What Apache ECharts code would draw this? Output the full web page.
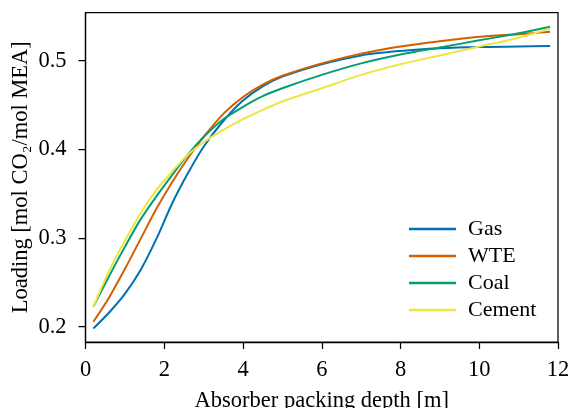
<!DOCTYPE html>
<html>
<head>
<meta charset="utf-8">
<script src="https://cdn.jsdelivr.net/npm/echarts@6/dist/echarts.min.js"></script>
<style>html,body{margin:0;padding:0;background:#fff;}#c{width:569px;height:408px;}</style>
</head>
<body>
<div id="c"></div>
<script>
const depth = [0.2,0.6,1.0,1.4,1.8,2.2,2.6,3.0,3.5,4.0,4.5,5.0,6.0,7.0,8.0,9.0,10.0,11.0,11.8];
const gas    = [0.198,0.216,0.237,0.264,0.299,0.339,0.373,0.403,0.432,0.455,0.471,0.482,0.496,0.506,0.511,0.514,0.5155,0.516,0.5165];
const wte    = [0.2056,0.233,0.265,0.299,0.333,0.363,0.390,0.414,0.440,0.459,0.473,0.483,0.497,0.508,0.516,0.522,0.527,0.530,0.5326];
const coal   = [0.2226,0.257,0.290,0.321,0.347,0.371,0.394,0.414,0.434,0.448,0.460,0.469,0.484,0.497,0.507,0.515,0.523,0.531,0.5383];
const cement = [0.2226,0.263,0.297,0.328,0.354,0.375,0.394,0.408,0.422,0.434,0.4445,0.454,0.469,0.484,0.496,0.506,0.516,0.526,0.5364];
const seriesNames = ['Gas','WTE','Coal','Cement'];
const colors = ['#0072B2','#D55E00','#009E73','#F0E442'];
const xTicks = [0,2,4,6,8,10,12];
const yTicks = [0.2,0.3,0.4,0.5];

const FONT = '"Liberation Serif","Times New Roman",serif';
const allData = [gas, wte, coal, cement];
const chart = echarts.init(document.getElementById('c'), null, {renderer:'canvas'});
chart.setOption({
  animation:false,
  backgroundColor:'#fff',
  color: colors,
  grid:{left:85.5, right:11, top:12.5, bottom:66, containLabel:false, outerBoundsMode:'none',
        show:true, borderColor:'#000', borderWidth:1.25, backgroundColor:'transparent'},
  xAxis:{
    type:'value', min:0, max:12, interval:2,
    name:'Absorber packing depth [m]', nameLocation:'middle', nameGap:48, nameMoveOverlap:false,
    nameTextStyle:{fontFamily:FONT, fontSize:22.5, color:'#000'},
    axisLine:{show:true, lineStyle:{color:'#000', width:1.25}},
    axisTick:{show:true, inside:false, length:7, lineStyle:{color:'#000', width:1.25}, customValues:xTicks},
    axisLabel:{fontFamily:FONT, fontSize:22.5, color:'#000', margin:17, customValues:xTicks},
    splitLine:{show:false}
  },
  yAxis:{
    type:'value', min:0.1827, max:0.5544,
    name:'Loading [mol CO\u2082/mol MEA]', nameLocation:'middle', nameGap:53, nameMoveOverlap:false,
    nameTextStyle:{fontFamily:FONT, fontSize:22.5, color:'#000'},
    axisLine:{show:true, lineStyle:{color:'#000', width:1.25}},
    axisTick:{show:true, inside:false, length:7, lineStyle:{color:'#000', width:1.25}, customValues:yTicks},
    axisLabel:{fontFamily:FONT, fontSize:22.5, color:'#000', margin:19, customValues:yTicks, formatter:v=>v.toFixed(1)},
    splitLine:{show:false}
  },
  legend:{
    orient:'vertical', left:404, top:213,
    icon:'rect', itemWidth:47, itemHeight:2.5, itemGap:5,
    textStyle:{fontFamily:FONT, fontSize:22, color:'#000', lineHeight:20, padding:[0,0,0,7]},
    data: seriesNames
  },
  series: seriesNames.map((n,i)=>({
    name:n, type:'line', smooth:0.3, symbol:'none',
    lineStyle:{width:2, color:colors[i]},
    data: depth.map((d,j)=>[d, allData[i][j]])
  }))
});
</script>
</body>
</html>
